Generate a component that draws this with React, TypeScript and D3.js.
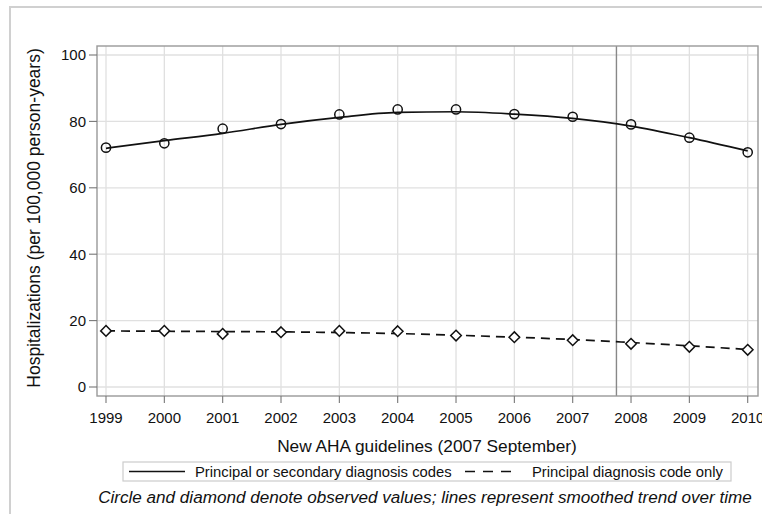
import React from "react";
import * as d3 from "d3";

const years = [1999, 2000, 2001, 2002, 2003, 2004, 2005, 2006, 2007, 2008, 2009, 2010];
const observedAll = [72.1, 73.4, 77.8, 79.2, 82.1, 83.6, 83.6, 82.2, 81.4, 79.1, 75.1, 70.7];
const smoothAll = [71.9, 74.2, 76.4, 79.1, 81.2, 82.7, 82.9, 82.2, 80.9, 78.6, 75.1, 71.1];
const observedPrincipal = [16.9, 16.9, 16.0, 16.5, 16.9, 16.8, 15.5, 15.0, 14.1, 13.0, 12.1, 11.2];
const smoothPrincipal = [16.9, 16.8, 16.7, 16.6, 16.4, 16.1, 15.6, 15.0, 14.3, 13.4, 12.4, 11.3];
const yTicks = [0, 20, 40, 60, 80, 100];
const guidelineDate = 2007.75;
const legendLabels = ["Principal or secondary diagnosis codes", "Principal diagnosis code only"];
const xTitle = "New AHA guidelines (2007 September)";
const yTitle = "Hospitalizations (per 100,000 person-years)";
const footnote = "Circle and diamond denote observed values; lines represent smoothed trend over time";

const W = 762, H = 514;
const plot = { left: 97, right: 758, top: 46, bottom: 396 };
const font = "'Liberation Sans', Arial, sans-serif";

export default function App() {
  const x = d3.scaleLinear().domain([1999, 2010]).range([106, 747.7]);
  const y = d3.scaleLinear().domain([0, 100]).range([387, 55]);
  const line = d3.line<number>().x((_, i) => x(years[i])).y((d) => y(d)).curve(d3.curveMonotoneX);
  const diamond = (cx: number, cy: number, s: number) =>
    `M${cx},${cy - s}L${cx + s},${cy}L${cx},${cy + s}L${cx - s},${cy}Z`;

  return (
    <svg width={W} height={H} style={{ position: "absolute", left: 0, top: 0, background: "#fff" }} fontFamily={font}>
      <rect x={10} y={7} width={W + 10} height={H + 10} fill="none" stroke="#d0d0d0" strokeWidth={2} />
      {/* gridlines */}
      {yTicks.map((t) => (
        <line key={"gy" + t} x1={plot.left} x2={plot.right} y1={y(t)} y2={y(t)} stroke="#e0e0e0" strokeWidth={1.3} />
      ))}
      {years.map((t) => (
        <line key={"gx" + t} x1={x(t)} x2={x(t)} y1={plot.top} y2={plot.bottom} stroke="#e0e0e0" strokeWidth={1.3} />
      ))}
      {/* reference line */}
      <line x1={x(guidelineDate)} x2={x(guidelineDate)} y1={plot.top} y2={plot.bottom} stroke="#888" strokeWidth={1.4} />
      {/* frame */}
      <rect x={plot.left} y={plot.top} width={plot.right - plot.left} height={plot.bottom - plot.top} fill="none" stroke="#999" strokeWidth={1.4} />
      {/* y axis ticks */}
      {yTicks.map((t) => (
        <g key={"ty" + t}>
          <line x1={plot.left - 8} x2={plot.left} y1={y(t)} y2={y(t)} stroke="#777" strokeWidth={1.1} />
          <text x={plot.left - 11} y={y(t)} dy="0.36em" textAnchor="end" fontSize={15} fill="#111">{t}</text>
        </g>
      ))}
      {years.map((t) => (
        <g key={"tx" + t}>
          <line x1={x(t)} x2={x(t)} y1={plot.bottom} y2={plot.bottom + 7} stroke="#777" strokeWidth={1.1} />
          <text x={x(t)} y={423} textAnchor="middle" fontSize={15} fill="#111">{t}</text>
        </g>
      ))}
      <text x={427} y={452} textAnchor="middle" fontSize={17.3} fill="#111">{xTitle}</text>
      <text transform={`translate(40,${(plot.top + plot.bottom) / 2 - 3}) rotate(-90)`} textAnchor="middle" fontSize={17.5} fill="#111">{yTitle}</text>
      {/* series */}
      <path d={line(smoothAll) || ""} fill="none" stroke="#111" strokeWidth={1.7} />
      <path d={line(smoothPrincipal) || ""} fill="none" stroke="#111" strokeWidth={1.7} strokeDasharray="9 6" />
      {observedAll.map((v, i) => (
        <circle key={"c" + i} cx={x(years[i])} cy={y(v)} r={4.6} fill="none" stroke="#111" strokeWidth={1.5} />
      ))}
      {observedPrincipal.map((v, i) => (
        <path key={"d" + i} d={diamond(x(years[i]), y(v), 5.3)} fill="#fff" stroke="#111" strokeWidth={1.5} />
      ))}
      {/* legend */}
      <rect x={123} y={462} width={608} height={19} fill="none" stroke="#ccc" strokeWidth={1.2} />
      <line x1={129} x2={185} y1={471.5} y2={471.5} stroke="#111" strokeWidth={1.5} />
      <text x={195} y={477} fontSize={14.8} fill="#111">{legendLabels[0]}</text>
      <line x1={465} x2={517} y1={471.5} y2={471.5} stroke="#111" strokeWidth={1.5} strokeDasharray="10 8" />
      <text x={532} y={477} fontSize={14.8} fill="#111">{legendLabels[1]}</text>
      <text x={425} y={503} textAnchor="middle" fontSize={17.1} fontStyle="italic" fill="#111">{footnote}</text>
    </svg>
  );
}
